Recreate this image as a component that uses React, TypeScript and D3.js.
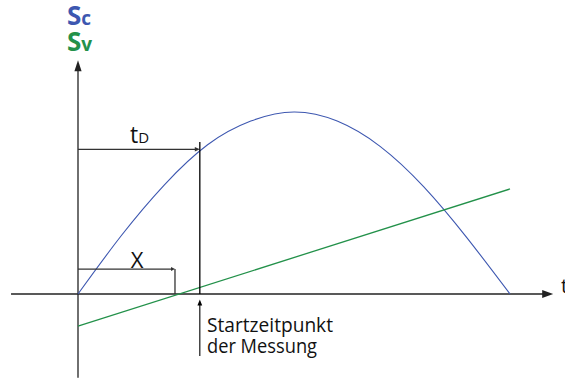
import React from "react";
import * as d3 from "d3";

// Time samples and the two signals (arbitrary units)
const times = [0, 1, 2, 3, 4, 5, 6, 7, 8, 9, 10];
const scValues = [0, 3.2, 6.0, 8.2, 9.5, 10.0, 9.5, 8.1, 5.9, 3.1, 0];
const svTimes = [0, 10];
const svValues = [-1.76, 5.77];

// Marked time spans
const xMark = 2.245; // where Sv crosses zero
const xLevel = 1.37;
const tdMark = 2.82; // start of the measurement
const tdLevel = 7.95;

const W = 565;
const H = 380;

const FONT = "'Open Sans', 'Noto Sans', sans-serif";
const BLUE = "#3d57b0";
const GREEN = "#23914a";
const AXIS = "#222";

export default function App() {
  const x = d3.scaleLinear().domain([0, 10]).range([78, 510]);
  const y = d3.scaleLinear().domain([0, 10]).range([294, 112]);

  const sc = d3
    .line<number>()
    .x((_, i) => x(times[i]))
    .y((d) => y(d))
    .curve(d3.curveNatural)(scValues) as string;

  const sv = d3
    .line<number>()
    .x((_, i) => x(svTimes[i]))
    .y((d) => y(d))(svValues) as string;

  const x0 = x(0);
  const y0 = y(0);

  // axis extents in data units
  const tMin = -1.55;
  const tMax = 11.0;
  const sMin = -4.6;
  const sMax = 12.85;

  const xTip = x(tMax);
  const yTip = y(sMax);

  const tri = (tx: number, ty: number, dir: "r" | "u", len: number, hw: number) =>
    dir === "r"
      ? `M${tx},${ty} L${tx - len},${ty - hw} L${tx - len},${ty + hw} Z`
      : `M${tx},${ty} L${tx - hw},${ty + len} L${tx + hw},${ty + len} Z`;

  return (
    <svg
      width={W}
      height={H}
      style={{ position: "absolute", left: 0, top: 0, background: "#fff" }}
    >
      {/* axes */}
      <line x1={x(tMin)} y1={y0} x2={xTip - 6} y2={y0} stroke={AXIS} strokeWidth={1.3} />
      <path d={tri(xTip, y0, "r", 11, 4)} fill={AXIS} />
      <line x1={x0} y1={y(sMin)} x2={x0} y2={yTip + 6} stroke={AXIS} strokeWidth={1.3} />
      <path d={tri(x0, yTip, "u", 11, 3.6)} fill={AXIS} />

      {/* signals */}
      <path d={sc} fill="none" stroke={BLUE} strokeWidth={1.1} />
      <path d={sv} fill="none" stroke={GREEN} strokeWidth={1.3} />

      {/* X span */}
      <line x1={x0} y1={y(xLevel)} x2={x(xMark) - 2} y2={y(xLevel)} stroke="#333" strokeWidth={1.3} />
      <path d={tri(x(xMark), y(xLevel), "r", 4, 2)} fill="#333" />
      <line x1={x(xMark)} y1={y(xLevel)} x2={x(xMark)} y2={y0} stroke="#333" strokeWidth={1.3} />
      <text x={137} y={y(xLevel) - 1.5} fontFamily={FONT} fontSize={22} textAnchor="middle" fill="#111">
        X
      </text>

      {/* tD span */}
      <line x1={x0} y1={y(tdLevel)} x2={x(tdMark) - 3} y2={y(tdLevel)} stroke="#333" strokeWidth={1.3} />
      <path d={tri(x(tdMark), y(tdLevel), "r", 5, 2.2)} fill="#333" />
      <line x1={x(tdMark)} y1={y(8.35)} x2={x(tdMark)} y2={y0} stroke="#000" strokeWidth={1.3} />
      <text x={130} y={y(tdLevel) - 6} fontFamily={FONT} fill="#111">
        <tspan fontSize={23}>t</tspan>
        <tspan fontSize={15}>D</tspan>
      </text>

      {/* start of measurement pointer */}
      <line x1={x(tdMark)} y1={356} x2={x(tdMark)} y2={304} stroke="#000" strokeWidth={1.1} />
      <path d={tri(x(tdMark), 299.5, "u", 6, 2.4)} fill="#000" />
      <text x={207} y={332} fontFamily={FONT} fontSize={20} fill="#111" textLength={126} lengthAdjust="spacingAndGlyphs">
        Startzeitpunkt
      </text>
      <text x={207} y={352.5} fontFamily={FONT} fontSize={20} fill="#111" textLength={110} lengthAdjust="spacingAndGlyphs">
        der Messung
      </text>

      {/* axis labels */}
      <text x={561} y={293} fontFamily={FONT} fontSize={20} fill="#111">
        t
      </text>
      <text x={67} y={25} fontFamily={FONT} fontWeight={700} fill={BLUE}>
        <tspan fontSize={26}>S</tspan>
        <tspan fontSize={19}>c</tspan>
      </text>
      <text x={67} y={51} fontFamily={FONT} fontWeight={700} fill={GREEN}>
        <tspan fontSize={26}>S</tspan>
        <tspan fontSize={19}>v</tspan>
      </text>
    </svg>
  );
}
